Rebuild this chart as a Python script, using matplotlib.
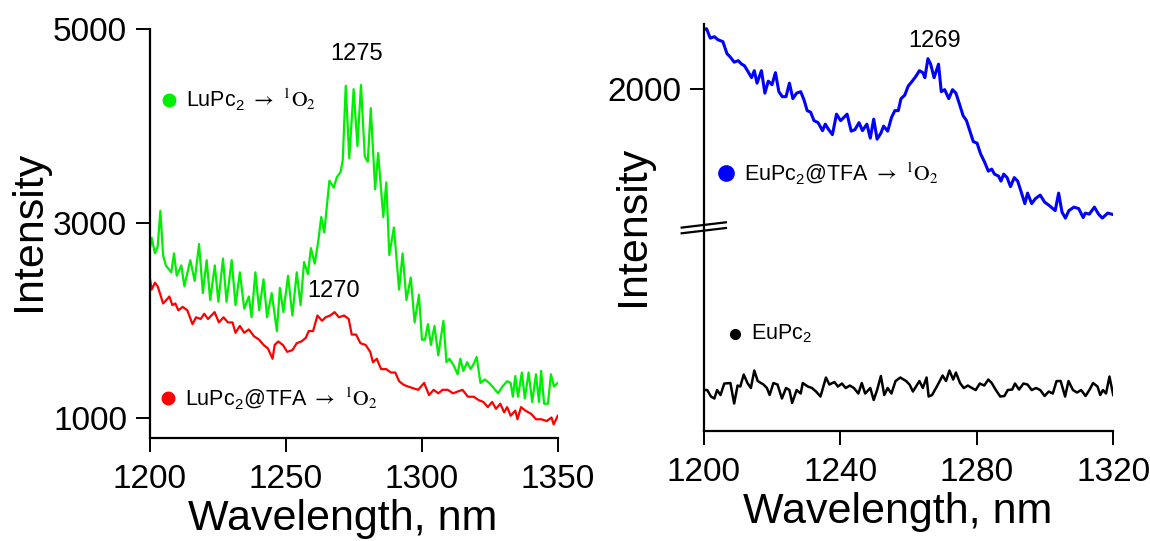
import matplotlib
matplotlib.use("Agg")
import matplotlib.pyplot as plt

plt.rcParams["font.family"] = ["Liberation Sans", "DejaVu Sans"]
plt.rcParams["mathtext.fontset"] = "stix"

# LuPc2 -> 1O2 (green)
wl_green = [1200, 1200.8, 1202, 1203, 1204, 1205, 1206, 1208, 1209, 1210, 1211.7, 1212.8,
            1215, 1216.6, 1218.2, 1219.6, 1221, 1222.3, 1224, 1225.3, 1227, 1228.3, 1230.2,
            1231.6, 1233.2, 1234.8, 1236.5, 1237.5, 1238.9, 1240.3, 1241.9, 1243.2, 1244.9,
            1246.8, 1247.9, 1249.2, 1250.9, 1252.5, 1254.1, 1255.5, 1256.8, 1258.2, 1259.3,
            1260.7, 1262, 1263.1, 1264.2, 1265.4, 1266.1, 1267.7, 1268.8, 1270.2, 1271,
            1272.1, 1273.4, 1275, 1276.4, 1277.7, 1279.1, 1280.2, 1281.3, 1282.9, 1284,
            1285.9, 1287, 1288.1, 1289.8, 1291.7, 1293, 1294.4, 1296, 1297.4, 1299, 1300.1,
            1301.2, 1302.3, 1303.4, 1304.7, 1306.1, 1308, 1309.1, 1310.2, 1311.8, 1313.2,
            1314.2, 1315.3, 1316.7, 1318, 1319.1, 1320.2, 1321.6, 1323.2, 1324.8, 1326.5,
            1328.1, 1329.7, 1331.4, 1332.7, 1333.5, 1334.4, 1335.4, 1336.8, 1337.9, 1339.3,
            1340.6, 1342, 1343.1, 1343.9, 1345, 1346.4, 1347.5, 1348.6, 1350]
int_green = [2708, 2850, 2690, 2760, 3128, 2670, 2566, 2495, 2690, 2460, 2566, 2352,
             2620, 2406, 2786, 2281, 2620, 2210, 2566, 2192, 2637, 2192, 2620,
             2157, 2495, 2121, 2246, 2032, 2495, 2103, 2423, 2032, 2281,
             1890, 2334, 2085, 2459, 2050, 2495, 2157, 2601, 2477, 2744,
             2584, 2815, 3064, 2904, 3242, 3438, 3367, 3473, 3527, 3651,
             4416, 3669, 4381, 3794, 4423, 3687, 3633, 4185, 3349, 3722,
             3064, 3420, 2673, 2957, 2317, 2690, 2210, 2441, 1979, 2263, 1801,
             1801, 1961, 1747, 1943, 1641, 1996, 1569, 1605, 1534, 1445,
             1605, 1480, 1569, 1498, 1552, 1623, 1356, 1391, 1356, 1302,
             1249, 1320, 1374, 1356, 1214, 1427, 1214, 1463, 1196, 1463,
             1160, 1445, 1160, 1480, 1142, 1142, 1445, 1320, 1356]

# LuPc2@TFA -> 1O2 (red)
wl_red = [1200, 1200.8, 1202, 1203, 1205, 1206.2, 1207.3, 1208.4, 1209.5, 1210.6, 1212.2,
          1213.9, 1215.8, 1217.1, 1218.8, 1220.1, 1221.5, 1223.9, 1225.5, 1227.2, 1228.8,
          1230.5, 1231.6, 1233.2, 1234.8, 1236.5, 1238.4, 1240.3, 1241.9, 1243.5, 1245.2,
          1246, 1247.3, 1249, 1250.6, 1252.5, 1254.1, 1255.8, 1257.4, 1258.5, 1260.1,
          1261.7, 1263.4, 1264.7, 1266.4, 1268, 1269.6, 1271.5, 1273.2, 1274.3, 1275.9,
          1277.5, 1279.4, 1281.1, 1282.1, 1283.5, 1285.1, 1287, 1288.7, 1290.3, 1291.7,
          1293.3, 1294.9, 1296.8, 1298.7, 1300.9, 1302.7, 1304.4, 1306.1, 1307.7, 1309.6,
          1311.5, 1313.2, 1315, 1317, 1319.1, 1321, 1322.7, 1324.3, 1325.9, 1327.3,
          1328.9, 1330.3, 1331.4, 1332.7, 1334.4, 1335.2, 1336.5, 1338.1, 1340.3, 1342,
          1343.9, 1346, 1347.7, 1348.5, 1350]
int_red = [2459, 2317, 2388, 2352, 2174, 2210, 2246, 2157, 2174, 2103, 2139,
           2103, 1961, 2032, 2014, 2068, 2014, 2085, 1979, 2032, 1979,
           1979, 1872, 1943, 1872, 1907, 1836, 1801, 1747, 1712, 1605,
           1747, 1783, 1747, 1676, 1694, 1765, 1783, 1819, 1890, 1890,
           2050, 1996, 2032, 2050, 2085, 2032, 2050, 2014, 1854, 1854,
           1765, 1747, 1676, 1569, 1605, 1498, 1498, 1463, 1463, 1374,
           1338, 1320, 1302, 1285, 1356, 1231, 1285, 1249, 1285, 1285,
           1249, 1267, 1285, 1214, 1214, 1178, 1160, 1107, 1160, 1089,
           1142, 1053, 1107, 1018, 1071, 982, 1107, 1071, 1036, 982,
           982, 964, 1000, 929, 1018]

# EuPc2@TFA -> 1O2 (blue)
wl_blue = [1200, 1200.8, 1201.9, 1203.1, 1204.1, 1205.6, 1206.8, 1207.8, 1208.9, 1210.1,
           1211.1, 1211.9, 1212.8, 1214, 1214.8, 1215.6, 1216.9, 1217.9, 1218.9, 1220,
           1221, 1222, 1223, 1224.1, 1225.1, 1226.1, 1227.2, 1228.4, 1229.4, 1230.3,
           1231.3, 1232.3, 1233.5, 1234.8, 1235.6, 1236.6, 1237.7, 1238.9, 1240.1, 1241,
           1242, 1243.2, 1244.3, 1245.5, 1246.5, 1247.8, 1248.8, 1249.8, 1250.8, 1251.9,
           1252.7, 1253.9, 1255, 1256, 1257, 1257.8, 1258.9, 1259.9, 1261.1, 1262.2,
           1263.2, 1264.2, 1264.8, 1265.7, 1266.5, 1267.5, 1268.8, 1269.6, 1270.6, 1271.8,
           1272.9, 1273.9, 1274.9, 1276, 1277, 1278, 1279, 1280.1, 1281.1, 1282.3,
           1283.4, 1284.4, 1285.2, 1286.4, 1287.1, 1287.9, 1288.9, 1289.9, 1291, 1292,
           1293, 1294.1, 1294.9, 1296.1, 1297.2, 1298.6, 1299.9, 1301.3, 1303, 1304,
           1305, 1306, 1307, 1308.5, 1309.9, 1311.2, 1311.8, 1313, 1314.5, 1315.7,
           1316.8, 1318.4, 1320]
int_blue = [2119, 2121, 2102, 2105, 2099, 2095, 2071, 2064, 2054, 2057,
            2050, 2047, 2037, 2023, 2037, 2012, 2037, 1992, 2016, 2009,
            2033, 1995, 1985, 1985, 2012, 1981, 1992, 1995, 1978, 1957,
            1954, 1937, 1933, 1917, 1930, 1919, 1909, 1950, 1937, 1943,
            1950, 1916, 1919, 1933, 1917, 1930, 1902, 1940, 1900, 1912,
            1926, 1916, 1943, 1957, 1957, 1981, 1988, 2006, 2016, 2026,
            2037, 2033, 2023, 2061, 2050, 2023, 2050, 1995, 1999, 1981,
            1999, 1992, 1971, 1947, 1937, 1916, 1895, 1892, 1871, 1854,
            1836, 1840, 1830, 1826, 1816, 1830, 1823, 1805, 1823, 1816,
            1795, 1771, 1792, 1771, 1781, 1788, 1774, 1767, 1757, 1792,
            1754, 1742, 1757, 1764, 1761, 1743, 1752, 1750, 1764, 1750,
            1742, 1752, 1749]

# EuPc2 (black), below the axis break
wl_black = [1200, 1201, 1202.1, 1203.1, 1203.9, 1204.9, 1206, 1207.8, 1208.9, 1209.9,
            1210.7, 1211.7, 1212.8, 1213.8, 1214.8, 1215.8, 1217.5, 1218.5, 1219.3, 1220.4,
            1221.6, 1222.9, 1224.1, 1225.1, 1225.9, 1227.2, 1228.4, 1229, 1230.5, 1231.7,
            1232.9, 1234.2, 1235.8, 1236.8, 1238.3, 1239.3, 1240.5, 1241.6, 1242.8, 1244,
            1245.3, 1246.3, 1247.3, 1248.8, 1249.8, 1250.8, 1251.9, 1252.9, 1253.9, 1255,
            1256.2, 1257.6, 1259.3, 1260.3, 1261.3, 1262.2, 1263.2, 1264.2, 1265.3, 1265.9,
            1266.9, 1268.3, 1270, 1271, 1272, 1273.1, 1273.9, 1275.1, 1276.2, 1277.4,
            1278.6, 1279.7, 1280.9, 1282.2, 1283.4, 1284.4, 1285.6, 1286.9, 1288.1, 1289.1,
            1290.4, 1291.2, 1292.4, 1293.7, 1294.9, 1296.1, 1297.4, 1298.6, 1299.9, 1301.1,
            1302.3, 1303.4, 1304.6, 1305.9, 1306.9, 1308.2, 1309.4, 1310.6, 1311.9, 1313.1,
            1314.1, 1315.4, 1316.2, 1317, 1317.9, 1318.9, 1320]
int_black = [1398, 1398, 1385, 1381, 1398, 1388, 1411, 1412, 1371, 1407,
             1405, 1429, 1412, 1402, 1437, 1416, 1409, 1402, 1388, 1412,
             1409, 1381, 1402, 1398, 1372, 1398, 1391, 1412, 1405, 1402,
             1395, 1385, 1423, 1409, 1414, 1405, 1411, 1402, 1407, 1402,
             1391, 1412, 1391, 1402, 1378, 1398, 1426, 1388, 1402, 1391,
             1416, 1423, 1416, 1409, 1395, 1405, 1416, 1402, 1423, 1385,
             1388, 1405, 1427, 1416, 1437, 1419, 1433, 1412, 1402, 1407,
             1402, 1398, 1411, 1407, 1419, 1412, 1398, 1385, 1386, 1398,
             1399, 1411, 1399, 1411, 1409, 1398, 1402, 1398, 1386, 1395,
             1391, 1416, 1416, 1385, 1416, 1398, 1393, 1398, 1386, 1399,
             1412, 1405, 1388, 1398, 1391, 1425, 1388]

left_xticks = [1200, 1250, 1300, 1350]
left_yticks = [1000, 3000, 5000]
right_xticks = [1200, 1240, 1280, 1320]
right_yticks = [2000]

lbl_green = r"LuPc$\mathregular{_2}$ $\rightarrow$ $\mathrm{^1O_2}$"
lbl_red = r"LuPc$\mathregular{_2}$@TFA $\rightarrow$ $\mathrm{^1O_2}$"
lbl_blue = r"EuPc$\mathregular{_2}$@TFA $\rightarrow$ $\mathrm{^1O_2}$"
lbl_black = r"EuPc$\mathregular{_2}$"

fig = plt.figure(figsize=(11.5, 5.41), dpi=100)
ax1 = fig.add_axes([0.130, 0.1904, 0.355, 0.756])
ax2 = fig.add_axes([0.612, 0.2033, 0.356, 0.752])

for ax in (ax1, ax2):
    ax.spines["top"].set_visible(False)
    ax.spines["right"].set_visible(False)
    ax.spines["left"].set_linewidth(1.6)
    ax.spines["bottom"].set_linewidth(1.6)
    ax.tick_params(axis="both", direction="out", length=10, width=1.4, labelsize=24)
    ax.tick_params(axis="x", pad=9)
    ax.tick_params(axis="y", pad=6)
    ax.set_xlabel("Wavelength, nm", fontsize=31)
    ax.set_ylabel("Intensity", fontsize=31)

# left panel
ax1.plot(wl_green, int_green, color="#00ee00", lw=1.6)
ax1.plot(wl_red, int_red, color="#ff0000", lw=1.6)
ax1.set_xlim(1200, 1350)
ax1.set_ylim(789, 5000)
ax1.set_xticks(left_xticks)
ax1.set_yticks(left_yticks)
ax1.text(1275.9, 4743, "1275", fontsize=17, ha="center", va="center")
ax1.text(1267.8, 2304, "1270", fontsize=17, ha="center", va="center")
ax1.plot(0.0475, 0.826, "o", color="#00ee00", ms=9, transform=ax1.transAxes, clip_on=False)
ax1.text(0.089, 0.826, lbl_green, fontsize=15.5, va="center", transform=ax1.transAxes)
ax1.plot(0.045, 0.098, "o", color="#ff0000", ms=9, transform=ax1.transAxes, clip_on=False)
ax1.text(0.0867, 0.098, lbl_red, fontsize=15.5, va="center", transform=ax1.transAxes)

# right panel (broken y axis)
ax2.plot(wl_blue, int_blue, color="#0000ff", lw=2.2)
ax2.plot(wl_black, int_black, color="black", lw=1.8)
ax2.set_xlim(1200, 1320)
ax2.set_ylim(1316, 2130)
ax2.set_xticks(right_xticks)
ax2.set_yticks(right_yticks)
ax2.text(1267.5, 2097, "1269", fontsize=17, ha="center", va="center")
ax2.plot(0.054, 0.634, "o", color="#0000ff", ms=11, transform=ax2.transAxes, clip_on=False)
ax2.text(0.098, 0.634, lbl_blue, fontsize=15.5, va="center", transform=ax2.transAxes)
ax2.plot(0.076, 0.238, "o", color="black", ms=7, transform=ax2.transAxes, clip_on=False)
ax2.text(0.115, 0.238, lbl_black, fontsize=15.5, va="center", transform=ax2.transAxes)
for dy in (0.0, 0.014):
    ax2.plot([-0.054, 0.054], [0.486 + dy, 0.499 + dy], color="black", lw=1.6,
             transform=ax2.transAxes, clip_on=False)

ax1.xaxis.set_label_coords(0.473, -0.15)
ax2.xaxis.set_label_coords(0.473, -0.15)
ax1.yaxis.set_label_coords(-0.245, 0.506)
ax2.yaxis.set_label_coords(-0.125, 0.505)

fig.savefig("out.png", dpi=100)
plt.close(fig)
